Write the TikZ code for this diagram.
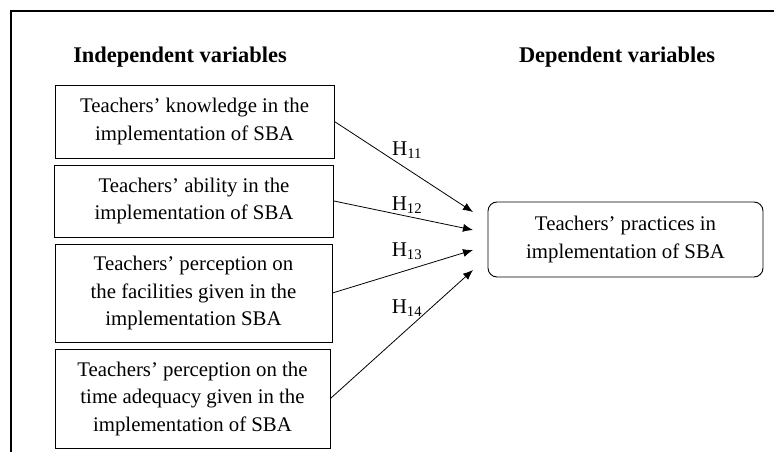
\documentclass[tikz,border=0pt]{standalone}
\usepackage{fontspec}
\setmainfont{Liberation Serif}
\usetikzlibrary{arrows.meta}
\tikzset{
  varbox/.style={draw, line width=0.9pt, minimum width=279pt, align=center, inner sep=2pt, font=\fontsize{20.8}{27.5}\selectfont},
  depbox/.style={varbox, rounded corners=9pt, minimum width=275pt, minimum height=75pt},
  head/.style={font=\fontsize{22.4}{27}\selectfont\bfseries},
  hyp/.style={font=\fontsize{21}{25}\selectfont},
  link/.style={-{Latex[length=10pt,width=8pt]}, line width=0.8pt}
}
\begin{document}
\begin{tikzpicture}[x=1pt,y=-1pt]
        \useasboundingbox (0,0) rectangle (774,452);
        \draw [line width=2pt] (11,452) -- (11,11) -- (774,11);
        \node [head] (indep) at (180, 57) {Independent variables};
        \node [head] (dep) at (617, 57) {Dependent variables};
        \node [varbox, minimum height=73pt] (know) at (194.5, 121.5) {Teachers’ knowledge in the\\implementation of SBA};
        \node [varbox, minimum height=72pt] (abil) at (194, 201) {Teachers’ ability in the\\implementation of SBA};
        \node [varbox, minimum width=277pt, minimum height=98pt] (facil) at (193.5, 293) {Teachers’ perception on\\the facilities given in the\\implementation SBA};
        \node [varbox, minimum width=275pt, minimum height=99pt] (time) at (192.5, 398.5) {Teachers’ perception on the\\time adequacy given in the\\implementation of SBA};
        \node [depbox] (prac) at (625.5, 239.5) {Teachers’ practices in\\implementation of SBA};
        \coordinate (h1) at (473, 212);
        \coordinate (h2) at (473, 230);
        \coordinate (h3) at (473, 250);
        \coordinate (h4) at (473, 270);
        \draw [link] (know.east) -- (h1);
        \draw [link] (abil.east) -- (h2);
        \draw [link] (facil.east) -- (h3);
        \draw [link] (time.east) -- (h4);
        \node [hyp] (l1) at (407, 150) {H\textsubscript{11}};
        \node [hyp] (l2) at (407, 205) {H\textsubscript{12}};
        \node [hyp] (l3) at (407, 251) {H\textsubscript{13}};
        \node [hyp] (l4) at (407, 308) {H\textsubscript{14}};
\end{tikzpicture}
\end{document}
